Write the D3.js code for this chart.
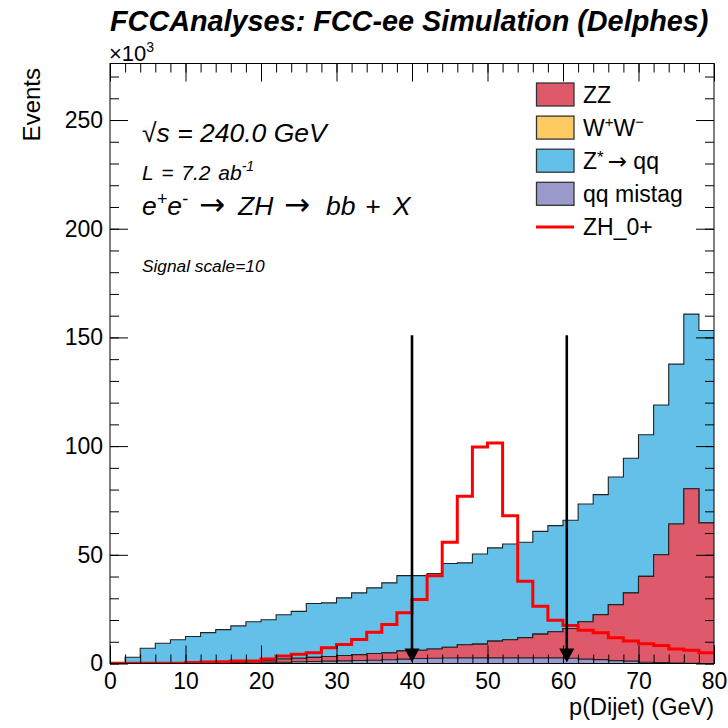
<!DOCTYPE html>
<html><head><meta charset="utf-8">
<script src="https://cdn.jsdelivr.net/npm/d3@7"></script>
<style>
body{margin:0;background:#fff}
svg{display:block}
text{font-family:"Liberation Sans",Arial,Helvetica,sans-serif}
</style>
</head><body>
<svg id="c" width="728" height="728"></svg>
<script>
// ---- data (events, in units of 10^3), 2 GeV bins from 0 to 80 GeV ----
const binLow = [0,2,4,6,8,10,12,14,16,18,20,22,24,26,28,30,32,34,36,38,40,42,44,46,48,50,52,54,56,58,60,62,64,66,68,70,72,74,76,78];
const xMax = 80;
const qqMistag = [0,0,0,0,0,0,0,0,0.1,0.2,0.3,0.6,0.8,0.9,1.1,1.2,1.4,1.5,1.7,2.0,2.3,2.4,2.5,2.6,2.6,2.6,2.6,2.6,2.6,2.6,2.4,2.0,1.8,1.3,1.1,0.6,0.4,0.2,0.1,0];
const zz = [0,0,0,0,0,0.1,0.2,0.3,0.4,0.6,0.9,1.5,1.6,1.9,2.1,2.5,2.7,3.1,3.2,3.8,3.8,4.3,5.0,6.0,6.3,7.7,8.3,9.3,10.9,12.0,13.7,17.2,20.7,25.8,31.4,39.5,49.6,64.0,80.3,64.7];
const ww = [0,0,0,0,0,0,0,0,0,0,0,0,0,0,0,0,0,0,0,0,0,0,0,0,0,0,0,0,0,0,0,0,0,0,0,0,0,0,0,0];
const zqq = [0,2.9,7.0,9.3,10.9,12.3,14.0,15.3,16.8,18.4,18.9,20.3,21.6,24.8,24.7,26.5,28.4,30.2,32.2,34.6,34.3,34.7,38.5,37.7,41.5,42.9,44.1,43.9,47.3,48.8,49.8,54.2,55.2,58.7,61.9,65.1,68.9,73.5,80.3,88.5];
const signalZH = [0.1,0.1,0.1,0.1,0.1,0.5,0.7,0.8,1.1,1.1,2.1,3.4,4.3,4.9,7.2,8.7,11.0,14.4,17.9,23.3,29.4,40.4,55.8,76.9,99.6,101.4,68.0,37.8,26.3,19.9,17.5,15.3,14.1,11.8,10.3,9.1,8.3,6.7,6.1,4.9];
const cutValues = [40, 60.5];
const arrowTopValue = 151;
const yMax = 276;
const xMajorTicks = [0,10,20,30,40,50,60,70,80];
const yMajorTicks = [0,50,100,150,200,250];
const legendLabels = ["ZZ","W+W-","Z*→qq","qq mistag","ZH_0+"];

// ---- layout ----
const L = 110, R = 714, T = 63.5, B = 663.5;
const svg = d3.select("#c");
const x = d3.scaleLinear().domain([0, xMax]).range([L, R]);
const y = d3.scaleLinear().domain([0, yMax]).range([B, T]);

const colors = {qqMistag:"#9a99cc", zz:"#de5a6a", ww:"#fecb63", zqq:"#63c0e8"};
const keys = ["qqMistag","zz","ww","zqq"];
const series = {qqMistag, zz, ww, zqq};
const rows = binLow.map((b,i)=>{const r={x:b}; keys.forEach(k=>r[k]=series[k][i]); return r;});
const stacked = d3.stack().keys(keys)(rows);

svg.append("defs").append("clipPath").attr("id","clip")
  .append("rect").attr("x",L).attr("y",T).attr("width",R-L).attr("height",B-T);
const plot = svg.append("g").attr("clip-path","url(#clip)");

function withEnd(arr){ const a = arr.slice(); a.push({...a[a.length-1], x:xMax}); return a; }

// draw stack from top layer down (ROOT style)
stacked.slice().reverse().forEach(layer=>{
  const pts = withEnd(layer.map((d,i)=>({x:binLow[i], v:d[1]})));
  const area = d3.area().curve(d3.curveStepAfter).x(d=>x(d.x)).y0(y(0)).y1(d=>y(d.v));
  plot.append("path").attr("d", area(pts)).attr("fill", colors[layer.key]).attr("stroke","none");
  const line = d3.line().curve(d3.curveStepAfter).x(d=>x(d.x)).y(d=>y(d.v));
  plot.append("path").attr("d", line(pts)).attr("fill","none").attr("stroke","#222").attr("stroke-width",1.1);
});

// signal
const sigPts = withEnd(signalZH.map((v,i)=>({x:binLow[i], v})));
plot.append("path")
  .attr("d", d3.line().curve(d3.curveStepAfter).x(d=>x(d.x)).y(d=>y(d.v))(sigPts))
  .attr("fill","none").attr("stroke","#ff0000").attr("stroke-width",3).attr("stroke-linejoin","miter");

// arrows at cuts
cutValues.forEach(c=>{
  const cx = x(c), tip = y(0) - 1;
  svg.append("line").attr("x1",cx).attr("x2",cx).attr("y1",y(arrowTopValue)).attr("y2",tip-8)
    .attr("stroke","#000").attr("stroke-width",2.6);
  svg.append("path").attr("d",`M${cx-7.5},${tip-14}L${cx+7.5},${tip-14}L${cx},${tip}Z`).attr("fill","#000");
});

// axes
function styleAxis(g){ g.select(".domain").remove(); g.selectAll("line").attr("stroke","#000");
  g.selectAll("text").attr("font-size",23).attr("fill","#000").attr("font-family",'"Liberation Sans",Arial,sans-serif'); }
const xMinor = d3.range(0, xMax+0.001, 2), yMinor = d3.range(0, yMax, 10);
svg.append("g").attr("transform",`translate(0,${B})`).call(d3.axisBottom(x).tickValues(xMinor).tickSize(-9).tickFormat("")).call(styleAxis);
svg.append("g").attr("transform",`translate(0,${B})`).call(d3.axisBottom(x).tickValues(xMajorTicks).tickSize(-18).tickPadding(9).tickFormat(d3.format("d"))).call(styleAxis);
svg.append("g").attr("transform",`translate(0,${T})`).call(d3.axisTop(x).tickValues(xMinor).tickSize(-9).tickFormat("")).call(styleAxis);
svg.append("g").attr("transform",`translate(0,${T})`).call(d3.axisTop(x).tickValues(xMajorTicks).tickSize(-18).tickFormat("")).call(styleAxis);
svg.append("g").attr("transform",`translate(${L},0)`).call(d3.axisLeft(y).tickValues(yMinor).tickSize(-9).tickFormat("")).call(styleAxis);
svg.append("g").attr("transform",`translate(${L},0)`).call(d3.axisLeft(y).tickValues(yMajorTicks).tickSize(-18).tickPadding(7).tickFormat(d3.format("d"))).call(styleAxis);
svg.append("g").attr("transform",`translate(${R},0)`).call(d3.axisRight(y).tickValues(yMinor).tickSize(-9).tickFormat("")).call(styleAxis);
svg.append("g").attr("transform",`translate(${R},0)`).call(d3.axisRight(y).tickValues(yMajorTicks).tickSize(-18).tickFormat("")).call(styleAxis);
svg.append("rect").attr("x",L).attr("y",T).attr("width",R-L).attr("height",B-T).attr("fill","none").attr("stroke","#000").attr("stroke-width",1);

// titles
svg.append("text").attr("x",110).attr("y",31).attr("font-size",28.8).attr("font-weight","bold").attr("font-style","italic")
  .text("FCCAnalyses: FCC-ee Simulation (Delphes)");
const e3 = svg.append("text").attr("x",109).attr("y",61).attr("font-size",22);
e3.append("tspan").text("×10");
e3.append("tspan").attr("dy",-9).attr("font-size",14).text("3");
svg.append("text").attr("transform","translate(40,68) rotate(-90)").attr("text-anchor","end").attr("font-size",24).text("Events");
svg.append("text").attr("x",R).attr("y",715).attr("text-anchor","end").attr("font-size",23.5).text("p(Dijet) (GeV)");

// annotations
const arrowFont = '"DejaVu Sans",sans-serif';
const ann = svg.append("g").attr("font-style","italic");
ann.append("text").attr("x",142).attr("y",142).attr("font-size",26.5).text("√s = 240.0 GeV");
const l2 = ann.append("text").attr("x",142).attr("y",180).attr("font-size",21).attr("word-spacing",2);
l2.append("tspan").text("L = 7.2 ab");
l2.append("tspan").attr("dy",-9).attr("font-size",14).text("-1");
const l3 = ann.append("text").attr("x",142).attr("y",215).attr("font-size",26.5);
l3.append("tspan").text("e");
l3.append("tspan").attr("dy",-10).attr("font-size",18).text("+");
l3.append("tspan").attr("dy",10).text("e");
l3.append("tspan").attr("dy",-10).attr("font-size",18).text("-");
l3.append("tspan").attr("dy",10).attr("x",199).attr("font-family",arrowFont).attr("font-style","normal").attr("font-size",31).text("→");
l3.append("tspan").attr("x",238).text("ZH");
l3.append("tspan").attr("x",284).attr("font-family",arrowFont).attr("font-style","normal").attr("font-size",31).text("→");
l3.append("tspan").attr("x",326).text("bb");
l3.append("tspan").attr("x",365).text("+");
l3.append("tspan").attr("x",393).text("X");
ann.append("text").attr("x",142).attr("y",271.5).attr("font-size",17.3).text("Signal scale=10");

// legend
const legY0 = 94.5, legDy = 33.1;
const legColors = [colors.zz, colors.ww, colors.zqq, colors.qqMistag, null];
legendLabels.forEach((lab,i)=>{
  const cy = legY0 + i*legDy;
  if (legColors[i]) {
    svg.append("rect").attr("x",536.5).attr("y",cy-11.5).attr("width",37.5).attr("height",23)
      .attr("fill",legColors[i]).attr("stroke","#333").attr("stroke-width",1.3);
  } else {
    svg.append("line").attr("x1",536).attr("x2",574).attr("y1",cy).attr("y2",cy).attr("stroke","#ff0000").attr("stroke-width",3);
  }
  const t = svg.append("text").attr("x",583).attr("y",cy+8.5).attr("font-size",23);
  if (lab === "W+W-") {
    t.append("tspan").text("W");
    t.append("tspan").attr("dy",-9).attr("font-size",15).text("+");
    t.append("tspan").attr("dy",9).text("W");
    t.append("tspan").attr("dy",-9).attr("font-size",15).text("−");
  } else if (lab === "Z*→qq") {
    t.append("tspan").text("Z");
    t.append("tspan").attr("dy",-6).attr("font-size",17).text("*");
    t.append("tspan").attr("dy",6).attr("dx",4).attr("font-family",arrowFont).text("→");
    t.append("tspan").text(" qq");
  } else t.text(lab);
});
</script>
</body></html>
